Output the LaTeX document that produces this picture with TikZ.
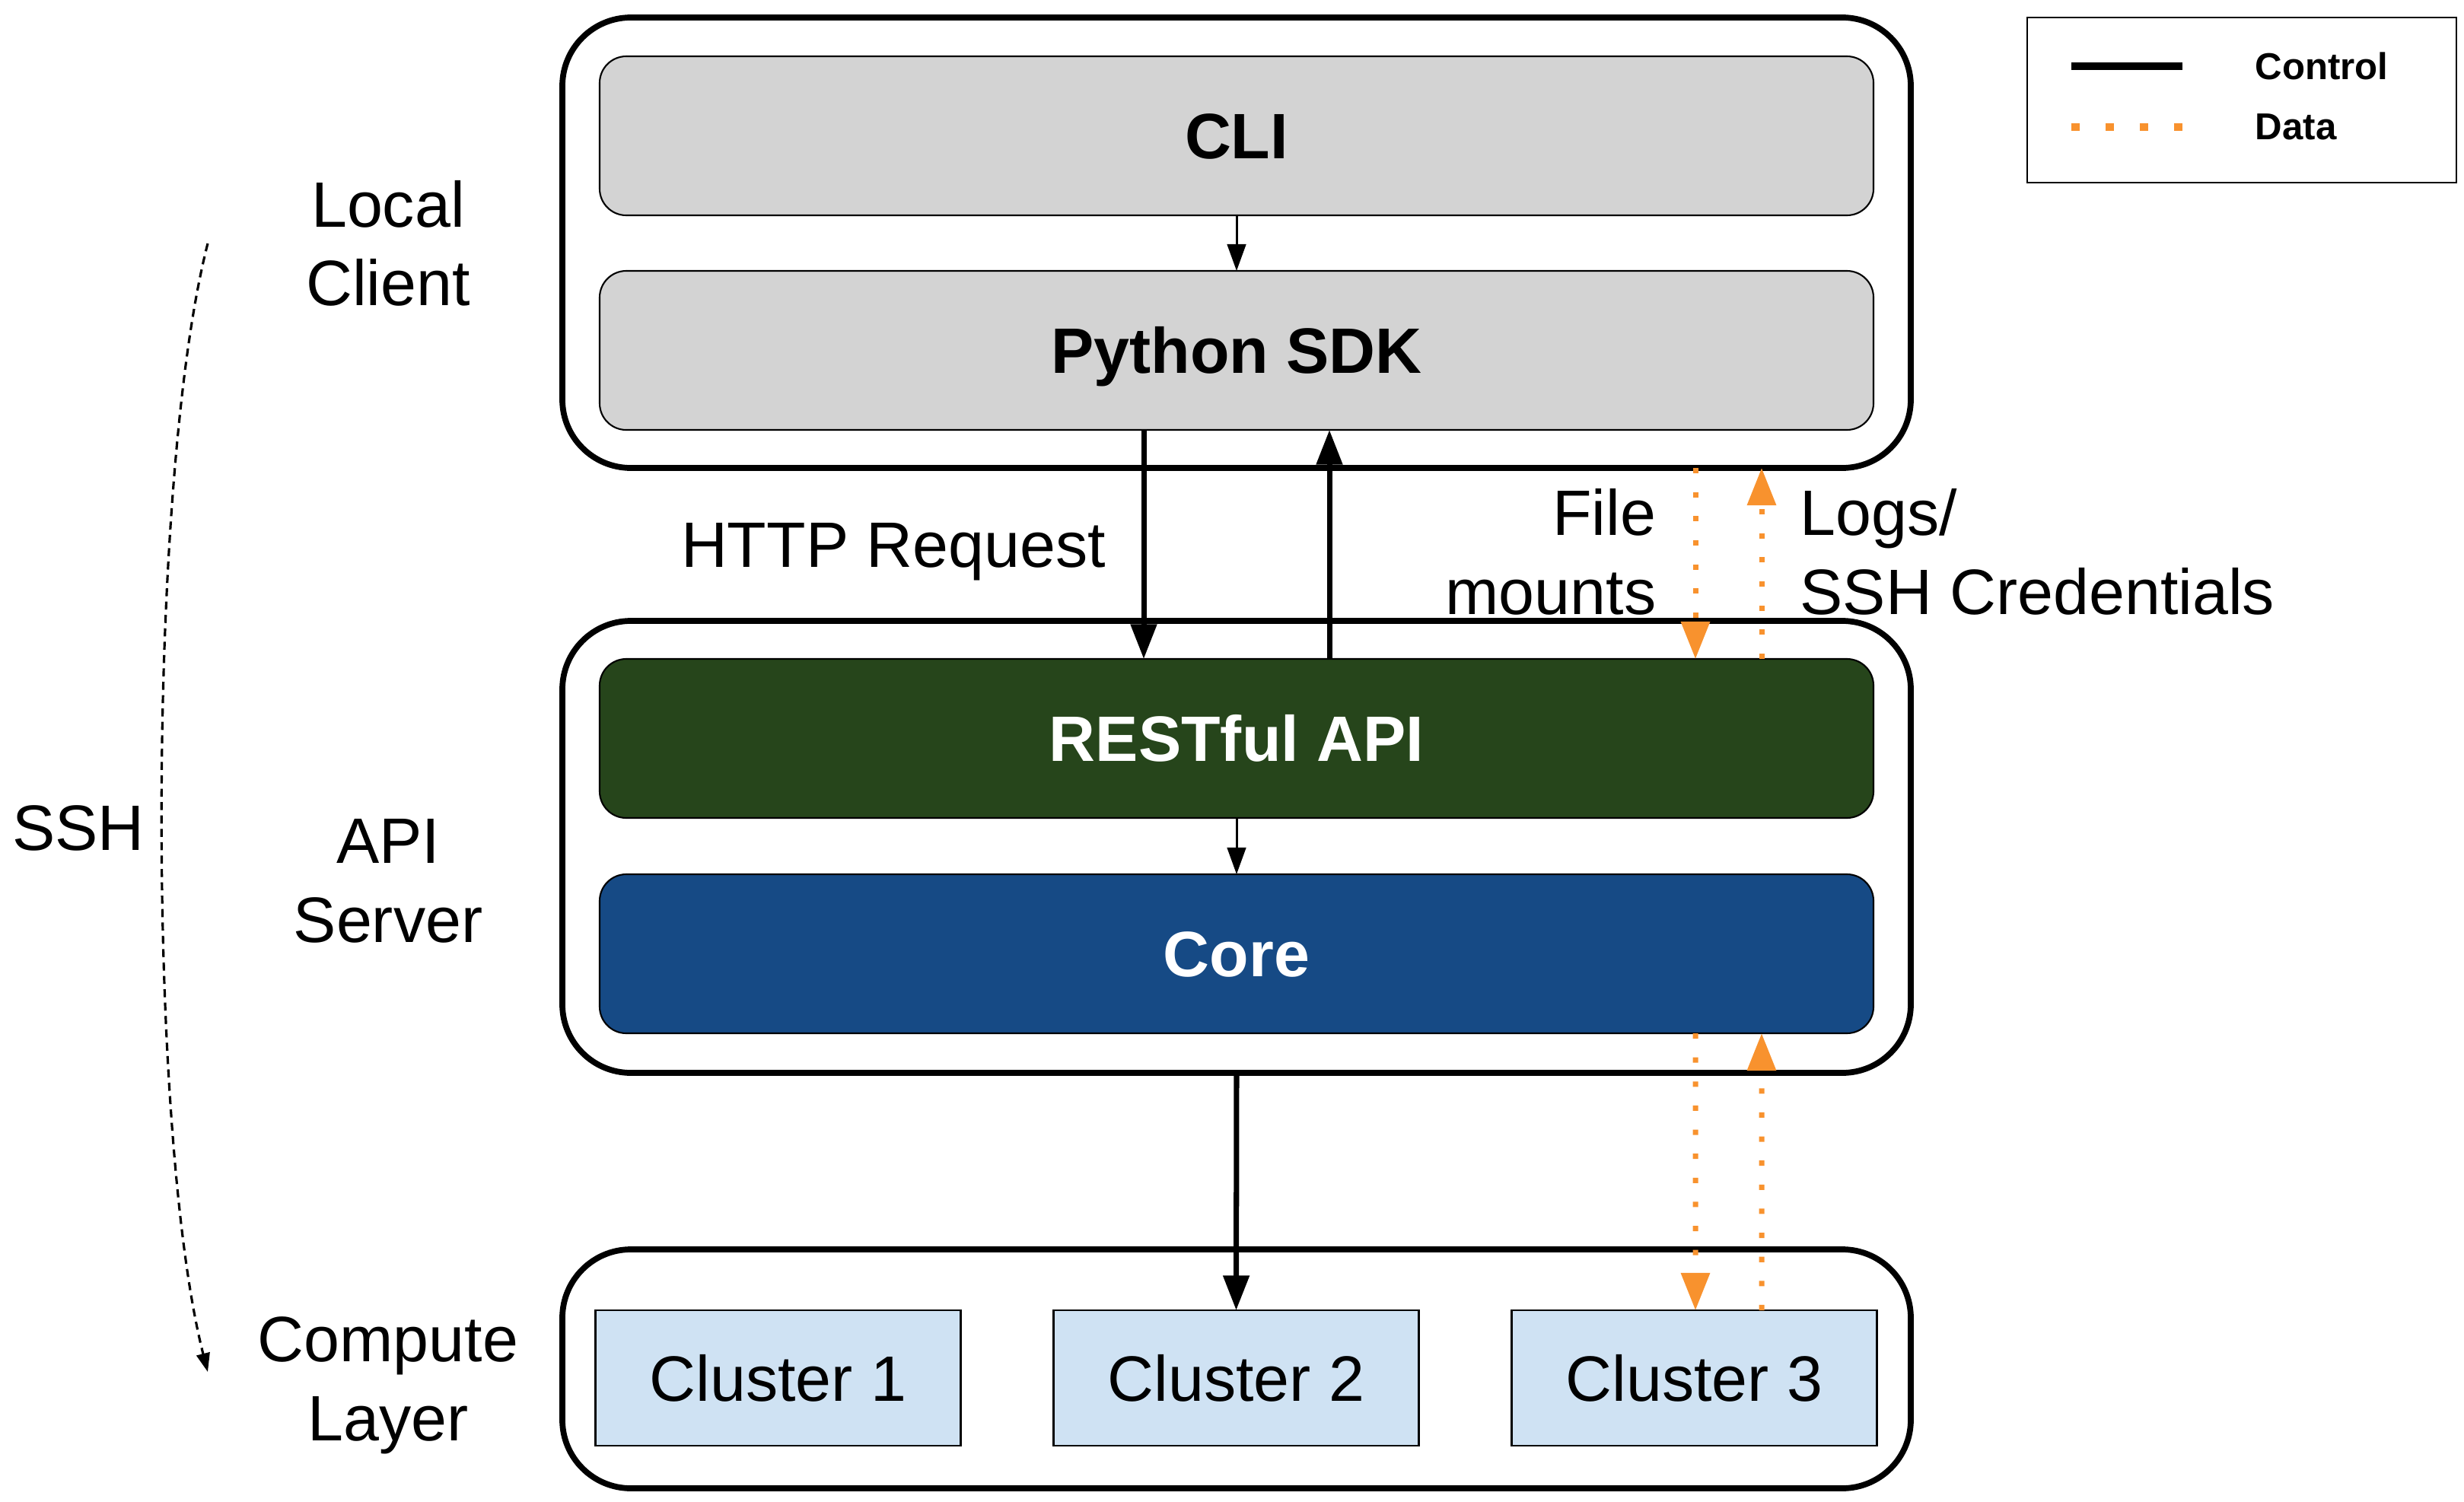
\documentclass[tikz,border=0pt]{standalone}
\usepackage{fontspec}
\setmainfont{Liberation Sans}
\usepackage{tikz}
\usetikzlibrary{arrows.meta}

\definecolor{sdkgrey}{HTML}{D3D3D3}
\definecolor{restgreen}{HTML}{26451B}
\definecolor{coreblue}{HTML}{164A85}
\definecolor{clusterblue}{HTML}{CFE2F3}
\definecolor{dataorange}{HTML}{F8922E}

\newcommand{\bigfont}{\fontsize{24}{29.5}\selectfont}

\tikzset{
  layer/.style={draw, line width=2.2pt, rounded corners=0.9cm, minimum width=17.72cm, inner sep=0pt, outer sep=0pt},
  block/.style={draw, line width=0.6pt, rounded corners=0.35cm, minimum width=16.74cm, minimum height=2.09cm, inner sep=0pt, outer sep=0pt, text height=17.2pt, text depth=0pt, font=\bigfont\bfseries},
  cluster/.style={draw, fill=clusterblue, line width=0.6pt, minimum width=4.8cm, minimum height=1.78cm, inner sep=0pt, outer sep=0pt, text height=17.2pt, text depth=0pt, font=\bigfont},
  lbl/.style={align=center, inner sep=0pt, font=\bigfont},
  ctrl/.style={line width=2pt, -{Triangle[length=13pt,width=9.5pt]}},
  thinctrl/.style={line width=0.85pt, -{Triangle[length=10pt,width=7pt]}},
  data/.style={draw=dataorange, line width=2pt, dash pattern=on 2pt off 7pt, -{Triangle[length=14pt,width=10.5pt,fill=dataorange]}}
}

\begin{document}
\begin{tikzpicture}
  \useasboundingbox (0,0) rectangle (32.38,-19.74);

  % layers
  \node[layer, minimum height=5.92cm] (local) at (16.25,-3.19) {};
  \node[layer, minimum height=5.94cm] (api) at (16.25,-11.13) {};
  \node[layer, minimum height=3.14cm] (compute) at (16.25,-17.99) {};

  % blocks
  \node[block, fill=sdkgrey] (cli) at (16.25,-1.785) {CLI};
  \node[block, fill=sdkgrey] (sdk) at (16.25,-4.605) {Python SDK};
  \node[block, fill=restgreen, text=white] (rest) at (16.25,-9.705) {RESTful API};
  \node[block, fill=coreblue, text=white] (core) at (16.25,-12.535) {Core};

  \node[cluster] (c1) at (10.225,-18.11) {Cluster 1};
  \node[cluster] (c2) at (16.245,-18.11) {Cluster 2};
  \node[cluster] (c3) at (22.265,-18.11) {Cluster 3};

  % layer names
  \node[lbl] (localname) at (5.10,-3.2) {Local\\Client};
  \node[lbl] (apiname) at (5.10,-11.58) {API\\Server};
  \node[lbl] (computename) at (5.10,-18.21) {Compute\\Layer};
  \node[lbl] (ssh) at (1.03,-10.88) {SSH};

  % control
  \draw[thinctrl] (cli.south) -- (sdk.north);
  \draw[thinctrl] (rest.south) -- (core.north);
  \draw[ctrl] ([xshift=-1.22cm]sdk.south) -- ([xshift=-1.22cm]rest.north);
  \draw[ctrl] ([xshift=1.22cm]rest.north) -- ([xshift=1.22cm]sdk.south);
  \draw[ctrl] (api.south) -- (c2.north);
  \node[lbl] (http) at (11.74,-7.25) {HTTP Request};

  % data
  \draw[data] ([xshift=6.03cm]local.south) -- ([xshift=6.03cm]rest.north);
  \draw[data] ([xshift=6.9cm]rest.north) -- ([xshift=6.9cm]local.south);
  \draw[data] ([xshift=6.03cm]core.south) -- ([xshift=0.015cm]c3.north);
  \draw[data] ([xshift=0.885cm]c3.north) -- ([xshift=6.9cm]core.south);
  \node[lbl, anchor=east, align=right] (mounts) at (21.77,-7.25) {File\\mounts};
  \node[lbl, anchor=west, align=left] (logs) at (23.65,-7.25) {Logs/\\SSH Credentials};

  % ssh
  \coordinate (sshtop) at (2.73,-3.20);
  \coordinate (sshbot) at (2.73,-18.03);
  \draw[line width=0.9pt, dash pattern=on 3pt off 2pt, -{Triangle[length=7pt,width=5pt]}]
    (sshtop) .. controls (1.93,-6.3) and (1.93,-14.9) .. (sshbot);

  % legend
  \node[draw, line width=0.8pt, minimum width=5.64cm, minimum height=2.17cm, inner sep=0pt] (legend) at (29.46,-1.315) {};
  \coordinate (ctrlA) at (27.22,-0.87);
  \coordinate (ctrlB) at (28.68,-0.87);
  \coordinate (dataA) at (27.22,-1.67);
  \coordinate (dataB) at (28.68,-1.67);
  \draw[line width=3pt] (ctrlA) -- (ctrlB);
  \draw[dataorange, line width=3pt, dash pattern=on 3pt off 9.8pt] (dataA) -- (dataB);
  \node[anchor=west, inner sep=0pt, font=\fontsize{14}{17}\selectfont\bfseries] (ctrltext) at (29.63,-0.87) {Control};
  \node[anchor=west, inner sep=0pt, font=\fontsize{14}{17}\selectfont\bfseries] (datatext) at (29.63,-1.67) {Data};
\end{tikzpicture}
\end{document}
